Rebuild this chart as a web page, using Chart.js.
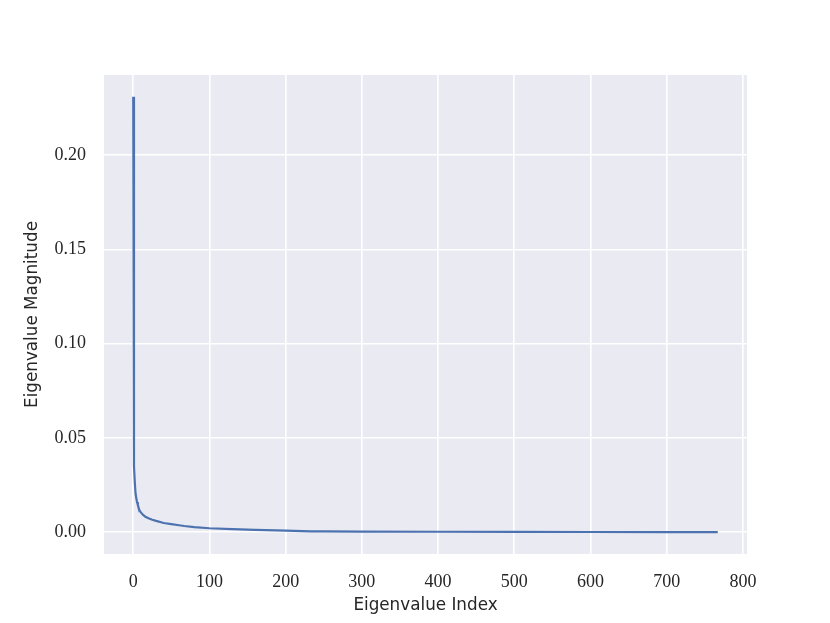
<!DOCTYPE html>
<html><head><meta charset="utf-8">
<script src="https://cdn.jsdelivr.net/npm/chart.js@4/dist/chart.umd.min.js"></script>
<style>html,body{margin:0;padding:0;background:#fff}#wrap{width:830px;height:623px}</style>
</head><body><div id="wrap"><canvas id="c" width="830" height="623"></canvas></div>
<script>
// Eigenvalue spectrum
const eigenIndex = [0, 1, 2, 3, 4, 5, 6, 8, 10, 13, 16, 20, 25, 30, 40, 50, 60, 67, 80, 100, 130, 160, 200, 233, 250, 300, 400, 500, 600, 700, 767];
const eigenValue = [0.231, 0.035, 0.027, 0.0207, 0.018, 0.016, 0.0145, 0.0118, 0.0105, 0.0092, 0.0082, 0.0074, 0.0066, 0.006, 0.0049, 0.0043, 0.0037, 0.0033, 0.0027, 0.0021, 0.0016, 0.0012, 0.0008, 0.0005, 0.00045, 0.00035, 0.00025, 0.00018, 0.00012, 0.00008, 0.00005];
const xTicks = [0, 100, 200, 300, 400, 500, 600, 700, 800];
const yTicks = [0, 0.05, 0.10, 0.15, 0.20];
const xTitle = 'Eigenvalue Index';
const yTitle = 'Eigenvalue Magnitude';

const points = eigenIndex.map((x, i) => ({x: x, y: eigenValue[i]}));
const xMin = -0.05 * 767, xMax = 767 * 1.05;
const yMax = Math.max(...eigenValue), yMin = -0.05 * yMax;

const bgPlugin = {
  id: 'plotBg',
  beforeDraw(chart) {
    const {ctx, chartArea: a} = chart;
    ctx.save();
    ctx.fillStyle = '#EAEAF2';
    ctx.fillRect(a.left, a.top, a.right - a.left, a.bottom - a.top);
    ctx.restore();
  }
};

const tickFont = {family: '"Liberation Serif", serif', size: 18};
const titleFont = {family: '"DejaVu Sans", sans-serif', size: 16.8};

new Chart(document.getElementById('c'), {
  type: 'line',
  data: {datasets: [{
    data: points,
    borderColor: '#4C72B0',
    borderWidth: 2.2,
    pointRadius: 0,
    tension: 0,
    fill: false
  }]},
  options: {
    responsive: false,
    devicePixelRatio: 1,
    animation: false,
    layout: {padding: {top: 75, right: 83, bottom: 0, left: 0}},
    plugins: {legend: {display: false}, tooltip: {enabled: false}},
    scales: {
      x: {
        type: 'linear', min: xMin, max: xMax,
        afterBuildTicks: s => { s.ticks = xTicks.map(v => ({value: v})); },
        afterFit: s => { s.height = 69; },
        grid: {color: '#ffffff', lineWidth: 1.6, drawTicks: false},
        border: {display: false},
        ticks: {font: tickFont, color: '#262626', padding: 17, maxRotation: 0, autoSkip: false,
                callback: v => String(v)},
        title: {display: true, text: xTitle, font: titleFont, color: '#262626', padding: {top: 0, bottom: 7}}
      },
      y: {
        type: 'linear', min: yMin, max: yMax * 1.05,
        afterBuildTicks: s => { s.ticks = yTicks.map(v => ({value: v})); },
        afterFit: s => { s.width = 104; },
        grid: {color: '#ffffff', lineWidth: 1.6, drawTicks: false},
        border: {display: false},
        ticks: {font: tickFont, color: '#262626', padding: 18, autoSkip: false,
                callback: v => Number(v).toFixed(2)},
        title: {display: true, text: yTitle, font: titleFont, color: '#262626', padding: {top: 23, bottom: 0}}
      }
    }
  },
  plugins: [bgPlugin]
});
</script>
</body></html>
